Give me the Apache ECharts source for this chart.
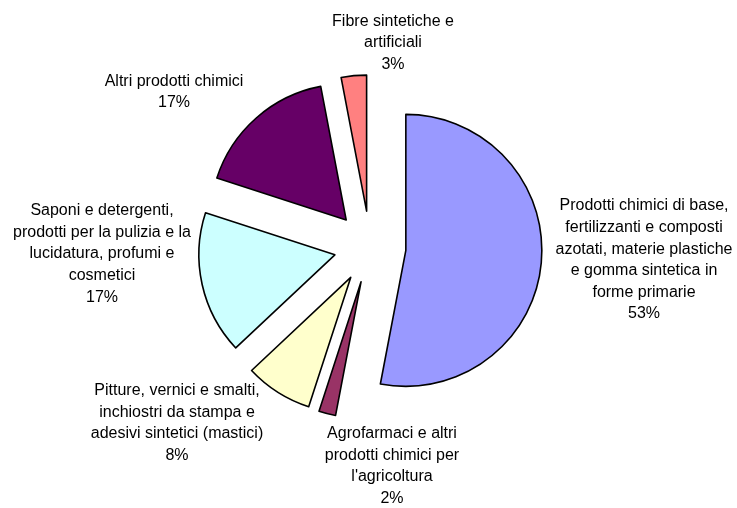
<!DOCTYPE html>
<html>
<head>
<meta charset="utf-8">
<script src="https://cdn.jsdelivr.net/npm/echarts@6/dist/echarts.min.js"></script>
<style>
  html, body { margin: 0; padding: 0; background: #fff; }
  #chart { width: 737px; height: 508px; }
</style>
</head>
<body>
<div id="chart"></div>
<script>
// Sector names (with the line breaks used in the labels) and their shares
const categories = [
  'Prodotti chimici di base,\nfertilizzanti e composti\nazotati, materie plastiche\ne gomma sintetica in\nforme primarie',
  'Agrofarmaci e altri\nprodotti chimici per\nl\'agricoltura',
  'Pitture, vernici e smalti,\ninchiostri da stampa e\nadesivi sintetici (mastici)',
  'Saponi e detergenti,\nprodotti per la pulizia e la\nlucidatura, profumi e\ncosmetici',
  'Altri prodotti chimici',
  'Fibre sintetiche e\nartificiali'
];
const values = [53, 2, 8, 17, 17, 3];

// Slice fill colours
const colors = ['#9999FF', '#993366', '#FFFFCC', '#CCFFFF', '#660066', '#FF8080'];

// Label anchor points (text block centres)
const labelPos = [
  [644, 260],
  [392, 466],
  [177, 423],
  [102, 254],
  [174, 92],
  [393, 43]
];

const chart = echarts.init(document.getElementById('chart'), null, { renderer: 'canvas' });

const total = values.reduce((a, b) => a + b, 0);

const data = categories.map((name, i) => ({
  name: name,
  value: values[i],
  selected: true,
  itemStyle: { color: colors[i] }
}));

// Category labels with their percentage share
const labels = categories.map((name, i) => ({
  type: 'text',
  x: labelPos[i][0],
  y: labelPos[i][1],
  silent: true,
  style: {
    text: name + '\n' + Math.round(values[i] / total * 100) + '%',
    fill: '#000',
    font: '16px "Liberation Sans", Arial, sans-serif',
    lineHeight: 21.6,
    align: 'center',
    verticalAlign: 'middle'
  }
}));

chart.setOption({
  animation: false,
  backgroundColor: '#ffffff',
  graphic: labels,
  series: [{
    type: 'pie',
    center: [370, 247],
    radius: [0, 136],
    startAngle: 90,
    clockwise: true,
    selectedMode: 'multiple',
    selectedOffset: 36,
    data: data,
    itemStyle: { borderColor: '#000', borderWidth: 1.6 },
    select: { itemStyle: { borderColor: '#000', borderWidth: 1.6 } },
    emphasis: { disabled: true },
    labelLine: { show: false },
    label: { show: false }
  }]
});
</script>
</body>
</html>
